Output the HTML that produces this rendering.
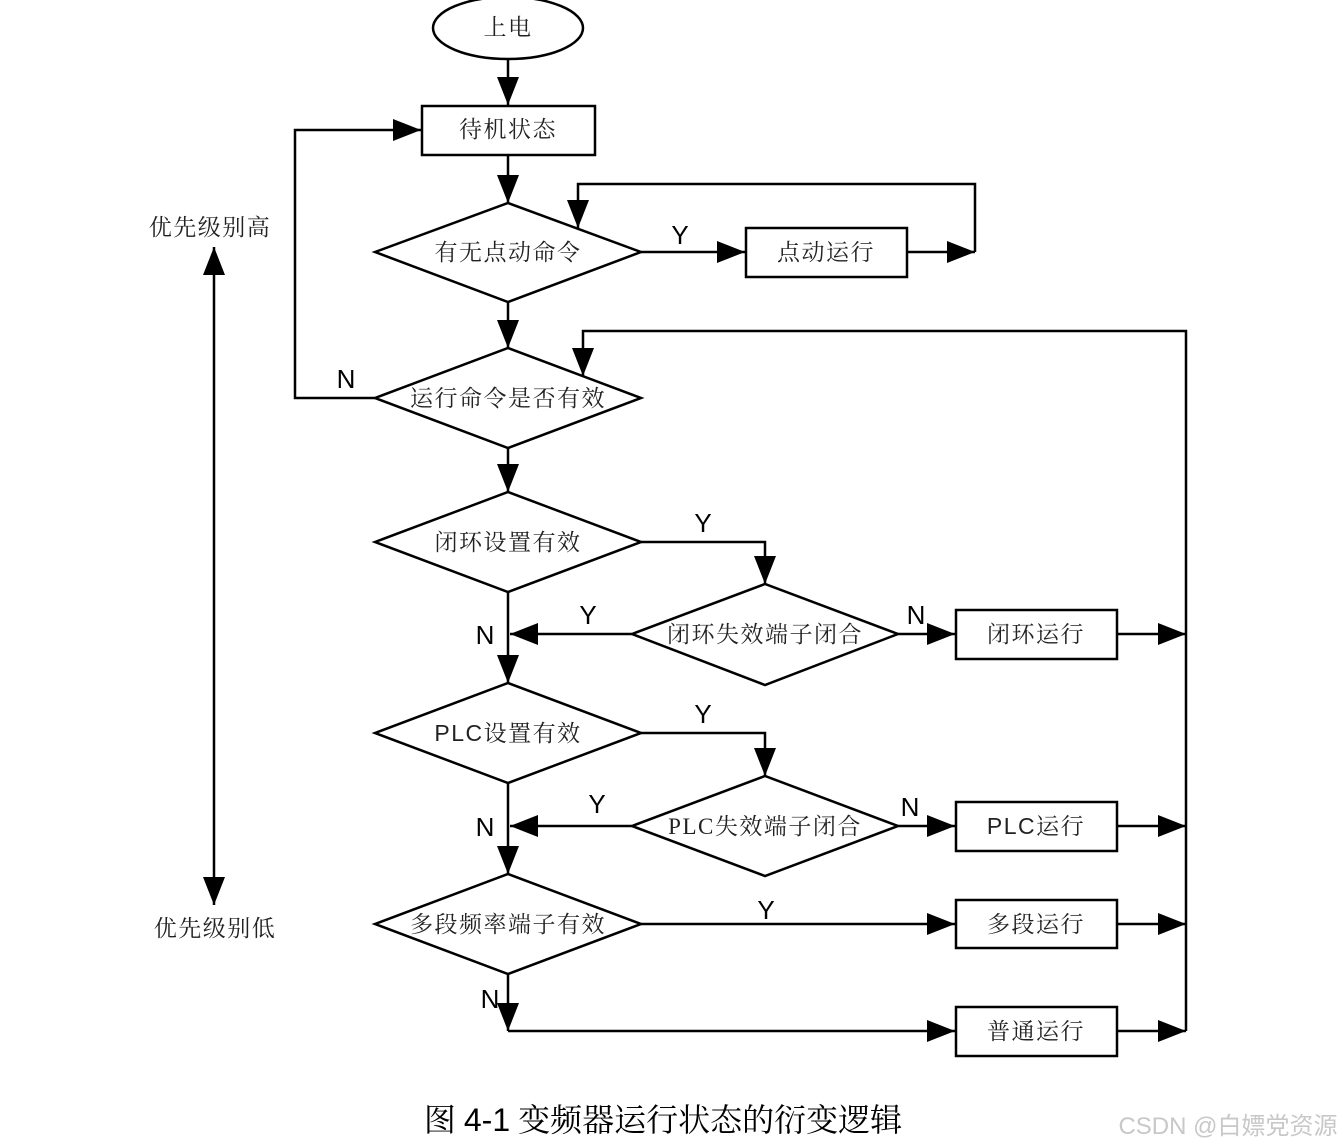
<!DOCTYPE html>
<html><head><meta charset="utf-8"><style>
html,body{margin:0;padding:0;background:#fff;}
svg{display:block;}
text{font-family:"Liberation Serif","Noto Serif CJK SC","Noto Sans CJK SC",serif;fill:#222;}
.l{font-family:"Liberation Sans",sans-serif;fill:#000;}
</style></head><body>
<svg width="1343" height="1147" viewBox="0 0 1343 1147" xmlns="http://www.w3.org/2000/svg">
<defs>
<marker id="a" markerUnits="userSpaceOnUse" markerWidth="30" markerHeight="22" refX="28" refY="11" orient="auto">
<path d="M0,0 L28,11 L0,22 Z" fill="#000"/>
</marker>
</defs>
<g fill="none" stroke="#000" stroke-width="2.5">
<ellipse cx="508" cy="28" rx="75" ry="31" fill="#fff"/>
<rect x="422" y="106" width="173" height="49"/>
<polygon points="375,252 508,203 641,252 508,302"/>
<rect x="746" y="228" width="161" height="49"/>
<polygon points="375,398 508,348 641,398 508,448"/>
<polygon points="375,542 508,492 641,542 508,592"/>
<polygon points="632,634 765,584 898,634 765,685"/>
<rect x="956" y="610" width="161" height="49"/>
<polygon points="375,733 508,683 641,733 508,783"/>
<polygon points="632,826 765,776 898,826 765,876"/>
<rect x="956" y="802" width="161" height="49"/>
<polygon points="375,924 508,874 641,924 508,974"/>
<rect x="956" y="900" width="161" height="48"/>
<rect x="956" y="1007" width="161" height="49"/>
</g>
<g fill="none" stroke="#000" stroke-width="2.5" marker-end="url(#a)">
<path d="M508,59 V105"/>
<path d="M508,155 V203"/>
<path d="M641,252 H745"/>
<path d="M907,252 H975"/>
<path d="M975,252 V184 H578 V228"/>
<path d="M508,302 V348"/>
<path d="M375,398 H295 V130 H421"/>
<path d="M1186,1031 V331 H583 V376"/>
<path d="M508,448 V492"/>
<path d="M641,542 H765 V584"/>
<path d="M898,634 H955"/>
<path d="M1117,634 H1186"/>
<path d="M632,634 H510"/>
<path d="M508,592 V683"/>
<path d="M641,733 H765 V776"/>
<path d="M898,826 H955"/>
<path d="M1117,826 H1186"/>
<path d="M632,826 H510"/>
<path d="M508,783 V874"/>
<path d="M641,924 H955"/>
<path d="M1117,924 H1186"/>
<path d="M508,974 V1031"/>
<path d="M508,1031 H955"/>
<path d="M1117,1031 H1186"/>
<path d="M214,570 V247"/>
<path d="M214,570 V905"/>
</g>
<g font-size="23" text-anchor="middle" letter-spacing="1.5">
<text x="508" y="35">上电</text>
<text x="508" y="137">待机状态</text>
<text x="508" y="260">有无点动命令</text>
<text x="826" y="260">点动运行</text>
<text x="508" y="406">运行命令是否有效</text>
<text x="508" y="550">闭环设置有效</text>
<text x="765" y="642">闭环失效端子闭合</text>
<text x="1036" y="642">闭环运行</text>
<text x="508" y="741"><tspan font-family="Liberation Sans">PLC</tspan>设置有效</text>
<text x="765" y="834">PLC失效端子闭合</text>
<text x="1036" y="834"><tspan font-family="Liberation Sans">PLC</tspan>运行</text>
<text x="508" y="932">多段频率端子有效</text>
<text x="1036" y="932">多段运行</text>
<text x="1036" y="1039">普通运行</text>
<text x="210" y="235">优先级别高</text>
<text x="215" y="936">优先级别低</text>
</g>
<g font-size="26" class="l" text-anchor="middle">
<text class="l" x="680" y="244">Y</text>
<text class="l" x="346" y="388">N</text>
<text class="l" x="703" y="532">Y</text>
<text class="l" x="588" y="624">Y</text>
<text class="l" x="916" y="624">N</text>
<text class="l" x="485" y="644">N</text>
<text class="l" x="703" y="723">Y</text>
<text class="l" x="597" y="813">Y</text>
<text class="l" x="910" y="816">N</text>
<text class="l" x="485" y="836">N</text>
<text class="l" x="766" y="919">Y</text>
<text class="l" x="490" y="1008">N</text>
</g>
<text x="663" y="1131" font-size="32" text-anchor="middle" style="fill:#000"><tspan>图 </tspan><tspan font-family="Liberation Sans">4-1</tspan><tspan> 变频器运行状态的衍变逻辑</tspan></text>
<text x="1228" y="1134" font-size="24" text-anchor="middle" style="fill:#c8c8c8;font-family:'Liberation Sans','Noto Sans CJK SC',sans-serif">CSDN @白嫖党资源</text>
</svg>
</body></html>
